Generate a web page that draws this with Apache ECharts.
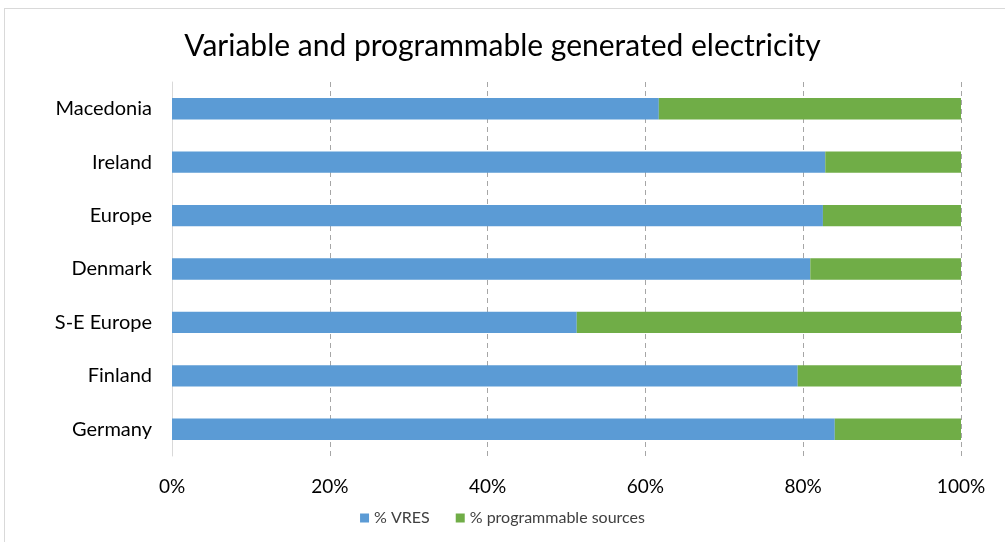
<!DOCTYPE html>
<html><head><meta charset="utf-8">
<script src="https://cdn.jsdelivr.net/npm/echarts@6/dist/echarts.min.js"></script>
<style>html,body{margin:0;padding:0;background:#fff}#c{width:1005px;height:542px}
#frame{position:absolute;left:4px;top:8px;width:1010px;height:540px;border:1px solid #d9d9d9;box-sizing:border-box;pointer-events:none}</style>
</head><body><div id="c"></div><div id="frame"></div>
<script>
const categories = ['Germany','Finland','S-E Europe','Denmark','Europe','Ireland','Macedonia'];
const vres = [84.0, 79.3, 51.3, 80.9, 82.5, 82.8, 61.7];
const programmable = [16.0, 20.7, 48.7, 19.1, 17.5, 17.2, 38.3];
const tickLabels = ['0%','20%','40%','60%','80%','100%'];
const FONT = 'Lato';
const chart = echarts.init(document.getElementById('c'));
chart.setOption({
  animation:false,
  title:{text:'Variable and programmable generated electricity',left:'center',top:26,
    textStyle:{fontFamily:FONT,fontSize:30,fontWeight:'normal',color:'#000'}},
  legend:{bottom:11,left:'center',itemWidth:9,itemHeight:9,itemGap:26,icon:'rect',
    textStyle:{fontFamily:FONT,fontSize:16,color:'#404040'}},
  grid:{left:172,right:44,top:82,bottom:86,containLabel:false},
  xAxis:{type:'value',min:0,max:100,interval:20,
    axisLabel:{formatter:(v)=>tickLabels[v/20],fontFamily:FONT,fontSize:19,color:'#000',margin:21},
    splitLine:{show:true,lineStyle:{type:[5,4],color:'#a6a6a6',width:1}},
    axisLine:{show:false},axisTick:{show:false}},
  yAxis:{type:'category',data:categories,
    axisLine:{show:true,lineStyle:{color:'#d9d9d9'}},axisTick:{show:false},
    axisLabel:{fontFamily:FONT,fontSize:20,color:'#000',margin:20}},
  series:[
    {name:'% VRES',type:'bar',stack:'t',data:vres,barCategoryGap:'60%',itemStyle:{color:'#5b9bd5'}},
    {name:'% programmable sources',type:'bar',stack:'t',data:programmable,itemStyle:{color:'#70ad47'}}
  ]
});
</script></body></html>
